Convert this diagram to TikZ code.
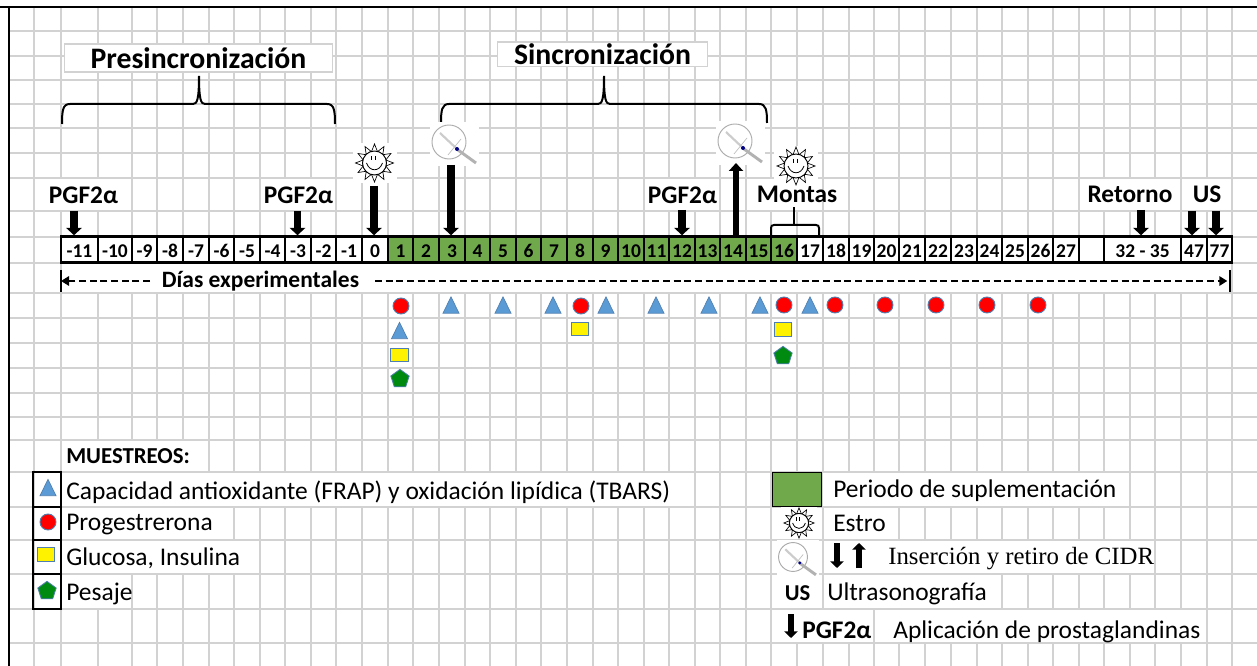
\documentclass[tikz,border=0pt]{standalone}
\usepackage{fontspec}
\setmainfont{Carlito}
\newfontfamily\serifcidr{Liberation Serif}
\usetikzlibrary{arrows.meta,shapes.geometric,calc}
\definecolor{gridgray}{HTML}{D2D2D2}
\definecolor{suppgreen}{HTML}{70A84C}
\definecolor{mblue}{HTML}{5B9BD5}
\definecolor{medge}{HTML}{4F7FB0}
\definecolor{mgreen}{HTML}{008A10}
\tikzset{
  x=0.75pt,y=-0.75pt,
  gridline/.style={gridgray,line width=1.25pt},
  frameline/.style={black,line width=1.7pt},
  cellbox/.style={draw=black,line width=1.9pt,inner sep=0pt,minimum height=19.5pt,text height=11.5pt,text depth=0pt,font=\fontsize{14.6}{15}\selectfont\bfseries,anchor=center},
  headlabel/.style={anchor=base,font=\fontsize{19}{21}\selectfont\bfseries,inner sep=0pt},
  bodytext/.style={anchor=base west,font=\fontsize{19.1}{21}\selectfont,inner sep=0pt},
  blockarrow/.style={black,line width=5.6pt,-{Triangle[width=11.5pt,length=5.5pt]}},
  uparrow/.style={black,line width=5.2pt,-{Triangle[width=10.5pt,length=6pt]}},
  smallarrow/.style={black,line width=4.2pt,-{Triangle[width=10pt,length=5pt]}},
  bracket/.style={black,line width=1.5pt},
  dashline/.style={black,line width=1.5pt,dash pattern=on 5.2pt off 2.8pt},
  titlebox/.style={draw=gridgray,fill=white,line width=0.8pt,font=\fontsize{22.3}{24}\selectfont\bfseries,inner sep=0pt},
  mcircle/.style={circle,draw=medge,fill=red,line width=0.7pt,minimum size=12pt,inner sep=0pt},
  msquare/.style={rectangle,draw=medge,fill=yellow,line width=0.8pt,minimum width=13pt,minimum height=10.4pt,inner sep=0pt},
  mpent/.style={regular polygon,regular polygon sides=5,draw=medge,fill=mgreen,line width=0.6pt,inner sep=0pt,minimum size=14.5pt},
  legbox/.style={draw=black,line width=2pt,fill=none},
  mtri/.pic={
    \draw[medge,fill=mblue,line width=0.5pt] (-8,8.2) -- (0,-8.2) -- (8,8.2) -- cycle;
  },
  sunicon/.pic={
    \fill[white] (-22,-20) rectangle (22,20);
    \foreach \a in {0,30,...,330}{
      \draw[black,line width=0.5pt,fill=white] (\a-14:12) -- (\a:19) -- (\a+14:12) -- cycle;
    }
    \draw[black,line width=0.7pt,fill=white] (0,0) circle (12);
    \draw[black,line width=0.5pt] (-3,-7) -- (-3,-3) (1,-7) -- (1,-3);
    \draw[black,line width=0.6pt] (-8,0) .. controls (-5,9) and (5,9) .. (8,0);
  },
  cidricon/.pic={
    \fill[white] (-19,-20) rectangle (30,24);
    \draw[gray!65,line width=0.7pt] (0,0) circle (17);
    \draw[gray!40,line width=1.6pt] (-9,-9) -- (8,7);
    \draw[gray!50,line width=0.5pt] (-1,13) -- (12,-3);
    \draw[gray!60,line width=2.2pt] (9,8) -- (27,21);
    \fill[blue!50!black] (8,7) circle (2);
  },
}
\begin{document}
\begin{tikzpicture}
\useasboundingbox (0,0) rectangle (1257,666);
\fill[white] (0,0) rectangle (1257,666);
% grid
\foreach \gx in {34,61,98,132,157,183,209,234,260,285,311,336,362,388,413,439,465,490,516,541,567,593,618,644,669,695,720,746,771,797,823,849,874,899,925,951,977,1002,1028,1053,1079,1104,1130,1155,1181,1207,1232}{
  \draw[gridline] (\gx,7) -- (\gx,666);
}
\foreach \gy in {31,56,80,104,128,153,178,211,237,263,293,318,343,368,393,417,440,472,507,540,574,609,643}{
  \draw[gridline] (9,\gy) -- (1257,\gy);
}
\draw[frameline] (0,7) -- (1257,7);
\draw[frameline] (9,7) -- (9,666);
% white text cells
\foreach \xa/\ya/\xb/\yb in {
 36/179/131/210, 262/179/335/210, 645/179/719/210, 747/179/822/210, 1080/179/1180/210, 1182/179/1231/210,
 62/264/1229/292,
 62/441/208/471, 62/473/694/506, 62/508/233/539, 62/541/259/573, 62/575/131/608,
 823/473/1129/506, 824/508/898/539, 824/541/1154/573, 772/575/822/608, 824/575/1001/608, 772/610/873/642, 875/610/1206/642}{
  \fill[white] (\xa,\ya) rectangle (\xb,\yb);
}
% titles
\node[titlebox,minimum width=201.5pt,minimum height=21pt] (tpre) at (198.5,58) {Presincronización};
\node[titlebox,minimum width=158pt,minimum height=18.7pt] (tsin) at (602.5,54.5) {Sincronización};
% braces
\draw[bracket] (62,124) .. controls (62,110) and (63,104) .. (70,104) -- (193,104) .. controls (197,104) and (199,100) .. (199,76) .. controls (199,100) and (201,104) .. (205,104) -- (327,104) .. controls (334,104) and (335,110) .. (335,124);
\draw[bracket] (441,123) .. controls (441,110) and (442,104) .. (449,104) -- (598,104) .. controls (602,104) and (604,100) .. (604,76) .. controls (604,100) and (606,104) .. (610,104) -- (759,104) .. controls (766,104) and (767,110) .. (767,123);
% table cells
\foreach \n/\l/\a/\b/\f in {
 m11/-11/61/98/white, m10/-10/98/132/white, m9/-9/132/157/white, m8/-8/157/183/white, m7/-7/183/209/white, m6/-6/209/234/white, m5/-5/234/260/white, m4/-4/260/285/white, m3/-3/285/311/white, m2/-2/311/336/white, m1/-1/336/362/white, d0/0/362/388/white,
 d1/1/388/413/suppgreen, d2/2/413/439/suppgreen, d3/3/439/465/suppgreen, d4/4/465/490/suppgreen, d5/5/490/516/suppgreen, d6/6/516/541/suppgreen, d7/7/541/567/suppgreen, d8/8/567/593/suppgreen, d9/9/593/618/suppgreen, d10/10/618/644/suppgreen, d11/11/644/669/suppgreen, d12/12/669/695/suppgreen, d13/13/695/720/suppgreen, d14/14/720/746/suppgreen, d15/15/746/771/suppgreen, d16/16/771/797/suppgreen,
 d17/17/797/823/white, d18/18/823/849/white, d19/19/849/874/white, d20/20/874/899/white, d21/21/899/925/white, d22/22/925/951/white, d23/23/951/977/white, d24/24/977/1002/white, d25/25/1002/1028/white, d26/26/1028/1053/white, d27/27/1053/1079/white, dblank//1079/1104/white, dret/32 - 35/1104/1181/white, d47/47/1181/1207/white, d77/77/1207/1232/white}{
  \pgfmathsetmacro{\cw}{(\b-\a)*0.75}
  \node[cellbox,fill=\f,minimum width=\cw pt] (\n) at ({(\a+\b)/2},249.5) {\l};
}
% Montas bracket
\draw[bracket] (771,236) -- (771,228) .. controls (771,226) and (772,225) .. (774,225) -- (816,225) .. controls (818,225) and (819,226) .. (819,228) -- (819,236);
\draw[bracket] (794,225) -- (794,207);
% icons
\pic at (374.5,163) {sunicon};
\pic at (796,166) {sunicon};
\pic at (449,142) {cidricon};
\pic at (735,141) {cidricon};
\pic[scale=0.8] at (799,523) {sunicon};
\pic[scale=0.85] at (793,557) {cidricon};
% header labels
\node[headlabel] (pg1) at (83.5,204) {PGF2α};
\node[headlabel] (pg2) at (298.5,204) {PGF2α};
\node[headlabel] (pg3) at (682.5,204) {PGF2α};
\node[headlabel] (mon) at (797,203) {Montas};
\node[headlabel] (ret) at (1130,203) {Retorno};
\node[headlabel] (us) at (1207,203) {US};
% arrows
\coordinate (a1) at (74,211);
\coordinate (a2) at (297.5,211);
\coordinate (a3) at (374,186);
\coordinate (a4) at (451,165);
\coordinate (a5) at (682,210);
\coordinate (a6) at (736,163);
\coordinate (a7) at (1141,210);
\coordinate (a8) at (1192,211);
\coordinate (a9) at (1216,211);
\draw[blockarrow] (a1) -- (a1 |- m11.north);
\draw[blockarrow] (a2) -- (a2 |- m3.north);
\draw[blockarrow] (a3) -- (a3 |- d0.north);
\draw[blockarrow] (a4) -- (a4 |- d3.north);
\draw[blockarrow] (a5) -- (a5 |- d12.north);
\draw[uparrow] (a6 |- d14.north) -- (a6);
\draw[blockarrow] (a7) -- (a7 |- dret.north);
\draw[blockarrow] (a8) -- (a8 |- d47.north);
\draw[blockarrow] (a9) -- (a9 |- d77.north);
% dias experimentales
\node[anchor=base,font=\fontsize{17.6}{19}\selectfont\bfseries,inner sep=0pt] (dias) at (260.5,288) {Días experimentales};
\coordinate (lb) at (61,281);
\coordinate (rb) at (1230,281);
\coordinate (dl) at (150,281);
\coordinate (dr) at (375,281);
\draw[dashline,-{Triangle[width=7pt,length=6pt]}] (dl) -- (lb);
\draw[dashline,-{Triangle[width=7pt,length=6pt]}] (dr) -- ([xshift=-2pt]rb);
\draw[black,line width=1.7pt] (61,270) -- (61,292) (1230,270) -- (1230,292);
% markers
\foreach \mx/\my in {401/306,581/306,784/305,835/305,885/305,936/305,987/305,1038/305}{
  \node[mcircle] at (\mx,\my) {};
}
\foreach \mx in {451,503,553,606,656,709,760,810}{
  \pic at (\mx,305) {mtri};
}
\pic at (399.5,330.5) {mtri};
\foreach \mx/\my in {399.5/355,580/329,783/329.5}{
  \node[msquare] at (\mx,\my) {};
}
\node[mpent] at (400,379) {};
\node[mpent] at (783,356) {};
% left legend
\node[bodytext,font=\fontsize{17.1}{19}\selectfont\bfseries] (lt0) at (66,464) {MUESTREOS:};
\node[bodytext] (lt1) at (66,499) {Capacidad antioxidante (FRAP) y oxidación lipídica (TBARS)};
\node[bodytext] (lt2) at (66,531) {Progestrerona};
\node[bodytext] (lt3) at (66,565) {Glucosa, Insulina};
\node[bodytext] (lt4) at (66,600) {Pesaje};
\foreach \ya/\yb in {472/507,507/540,540/574,574/609}{
  \draw[legbox] (33,\ya) rectangle (61,\yb);
}
\pic at (48,487.5) {mtri};
\node[mcircle] at (48,522) {};
\node[msquare] at (46,554.5) {};
\node[mpent] at (47,591) {};
% right legend
\node[rectangle,draw=black,fill=suppgreen,line width=1pt,minimum width=37pt,minimum height=25pt,inner sep=0pt] (lg) at (797,489.5) {};
\node[bodytext] (rt1) at (833,498) {Periodo de suplementación};
\node[bodytext] (rt2) at (833,532) {Estro};
\coordinate (dna) at (837,543);
\coordinate (dnb) at (837,568);
\coordinate (upa) at (859,568);
\coordinate (upb) at (859,543);
\draw[smallarrow] (dna) -- (dnb);
\draw[smallarrow] (upa) -- (upb);
\node[bodytext,font=\fontsize{18.6}{21}\selectfont\serifcidr] (rt3) at (888,564) {Inserción y retiro de CIDR};
\node[anchor=base,font=\fontsize{17}{19}\selectfont\bfseries,inner sep=0pt] (rt4a) at (797.5,600) {US};
\node[bodytext] (rt4) at (827,600) {Ultrasonografía};
\coordinate (pa) at (791,614);
\coordinate (pb) at (791,638);
\draw[smallarrow] (pa) -- (pb);
\node[headlabel,anchor=base west] (rt5a) at (802,638) {PGF2α};
\node[bodytext] (rt5) at (893,638) {Aplicación de prostaglandinas};
\end{tikzpicture}
\end{document}
